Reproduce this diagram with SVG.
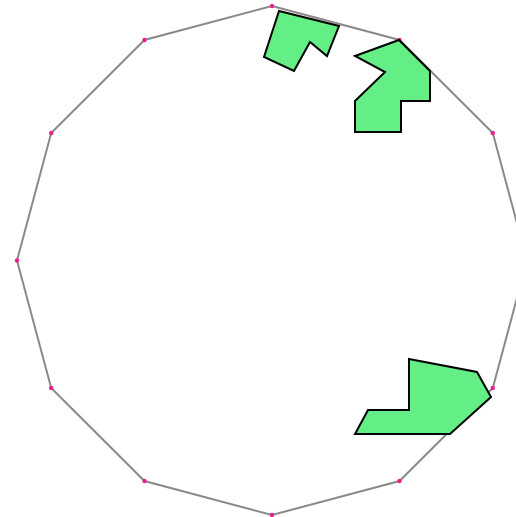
<svg xmlns="http://www.w3.org/2000/svg" width="516" height="517" viewBox="0 0 516 517">
<style>
.edge{fill:none;stroke:#8a8a8a;stroke-width:2}
.v{fill:#e8228a}
.shape{fill:#63ee86;stroke:#000;stroke-width:2;stroke-linejoin:miter}
</style>
<rect width="516" height="517" fill="#fff"/>
<g id="connectors">
<polygon class="edge" points="272,6 399.5,40 492.8,133 527,260.5 492.8,388 399.5,481 272,515 144.5,481 51.2,388 17,260.5 51.2,133 144.5,40"/>
</g>
<g id="vertices">
<circle class="v" cx="272" cy="6" r="2.2"/>
<circle class="v" cx="399.5" cy="40" r="2.2"/>
<circle class="v" cx="492.8" cy="133" r="2.2"/>
<circle class="v" cx="492.8" cy="388" r="2.2"/>
<circle class="v" cx="399.5" cy="481" r="2.2"/>
<circle class="v" cx="272" cy="515" r="2.2"/>
<circle class="v" cx="144.5" cy="481" r="2.2"/>
<circle class="v" cx="51.2" cy="388" r="2.2"/>
<circle class="v" cx="17" cy="260.5" r="2.2"/>
<circle class="v" cx="51.2" cy="133" r="2.2"/>
<circle class="v" cx="144.5" cy="40" r="2.2"/>
</g>
<g id="shape1"><polygon class="shape" points="279,11 339,26 327,56 310,42 294,71 264,57"/></g>
<g id="shape2"><polygon class="shape" points="399,40 430,71 430,101 401,101 401,132 355,132 355,101 385,72 355,56"/></g>
<g id="shape3"><polygon class="shape" points="409,359 477,372 491,397 450,434 355,434 368,410 409,410"/></g>
</svg>
